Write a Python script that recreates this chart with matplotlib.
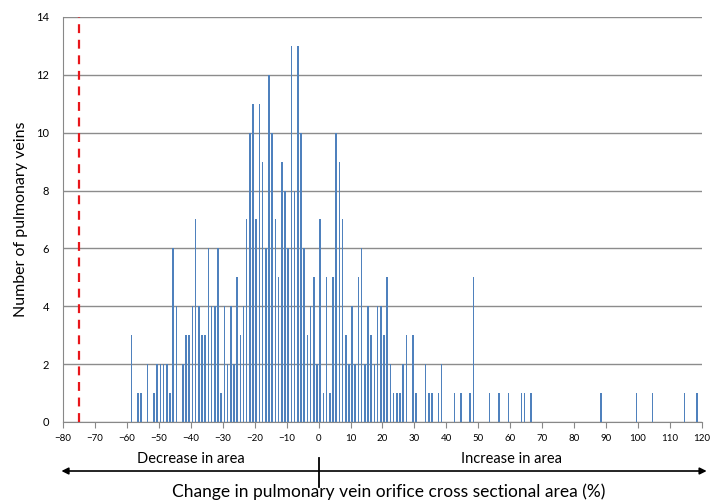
import numpy as np
import matplotlib
matplotlib.use("Agg")
import matplotlib.pyplot as plt
import matplotlib.transforms as mtransforms

plt.rcParams["font.family"] = ["Lato", "DejaVu Sans"]

# change in orifice area (%), 1% bins (bin centres) and number of veins in each
area_change = [
    -58.5, -56.5, -55.5, -53.5, -51.5, -50.5, -49.5, -48.5, -47.5, -46.5,
    -45.5, -44.5, -42.5, -41.5, -40.5, -39.5, -38.5, -37.5, -36.5, -35.5,
    -34.5, -33.5, -32.5, -31.5, -30.5, -29.5, -28.5, -27.5, -26.5, -25.5,
    -24.5, -23.5, -22.5, -21.5, -20.5, -19.5, -18.5, -17.5, -16.5, -15.5,
    -14.5, -13.5, -12.5, -11.5, -10.5, -9.5, -8.5, -7.5, -6.5, -5.5,
    -4.5, -3.5, -2.5, -1.5, -0.5, 0.5, 1.5, 2.5, 3.5, 4.5,
    5.5, 6.5, 7.5, 8.5, 9.5, 10.5, 11.5, 12.5, 13.5, 14.5,
    15.5, 16.5, 17.5, 18.5, 19.5, 20.5, 21.5, 22.5, 23.5, 24.5,
    25.5, 26.5, 27.5, 29.5, 30.5, 33.5, 34.5, 35.5, 37.5, 38.5,
    42.5, 44.5, 47.5, 48.5, 53.5, 56.5, 59.5, 63.5, 64.5, 66.5,
    88.5, 99.5, 104.5, 114.5, 118.5,
]
n_veins = [
    3, 1, 1, 2, 1, 2, 2, 2, 2, 1,
    6, 4, 2, 3, 3, 4, 7, 4, 3, 3,
    6, 4, 4, 6, 1, 4, 2, 4, 2, 5,
    3, 4, 7, 10, 11, 7, 11, 9, 6, 12,
    10, 7, 5, 9, 8, 6, 13, 8, 13, 10,
    6, 3, 4, 5, 2, 7, 1, 5, 1, 5,
    10, 9, 7, 3, 2, 4, 2, 5, 6, 2,
    4, 3, 2, 4, 4, 3, 5, 2, 1, 1,
    1, 2, 3, 3, 1, 2, 1, 1, 1, 2,
    1, 1, 1, 5, 1, 1, 1, 1, 1, 1,
    1, 1, 1, 1, 1,
]
threshold = -75
x_ticks = list(range(-80, 121, 10))
y_ticks = list(range(0, 15, 2))

fig = plt.figure(figsize=(7.17, 5.04), dpi=100)
ax = fig.add_axes([0.0879, 0.1627, 0.891, 0.8036])

ax.bar(area_change, n_veins, width=0.5, color="#4F81BD", zorder=3)
ax.axvline(threshold, color="#E8161B", ls=(0, (4, 3)), lw=1.6, zorder=4)

ax.set_xlim(-80, 120)
ax.set_ylim(0, 14)
ax.set_xticks(x_ticks)
ax.set_yticks(y_ticks)
ax.tick_params(axis="x", length=4, color="#888888", labelsize=7, pad=5)
ax.tick_params(axis="y", length=0, labelsize=8, pad=10)
ax.grid(axis="y", color="#8C8C8C", lw=1, zorder=0)
for side in ["top", "right"]:
    ax.spines[side].set_visible(False)
for side in ["left", "bottom"]:
    ax.spines[side].set_color("#888888")
ax.set_ylabel("Number of pulmonary veins", fontsize=11.5, labelpad=6)

# direction arrow under the axis
trans = mtransforms.blended_transform_factory(ax.transData, ax.transAxes)
ax.annotate("", xy=(-80.5, -0.121), xytext=(121.5, -0.121), xycoords=trans,
            textcoords=trans, annotation_clip=False,
            arrowprops=dict(arrowstyle="<|-|>", color="black", lw=1.2,
                            mutation_scale=10, shrinkA=0, shrinkB=0))
ax.plot([0, 0], [-0.088, -0.160], transform=trans, color="black", lw=1.3,
        clip_on=False)
ax.text(-40, -0.092, "Decrease in area", transform=trans, ha="center",
        va="center", fontsize=10.5)
ax.text(60.5, -0.092, "Increase in area", transform=trans, ha="center",
        va="center", fontsize=10.5)
fig.text(0.5425, 0.024, "Change in pulmonary vein orifice cross sectional area (%)",
         ha="center", va="center", fontsize=12.5)

fig.savefig("out.png", dpi=100)
